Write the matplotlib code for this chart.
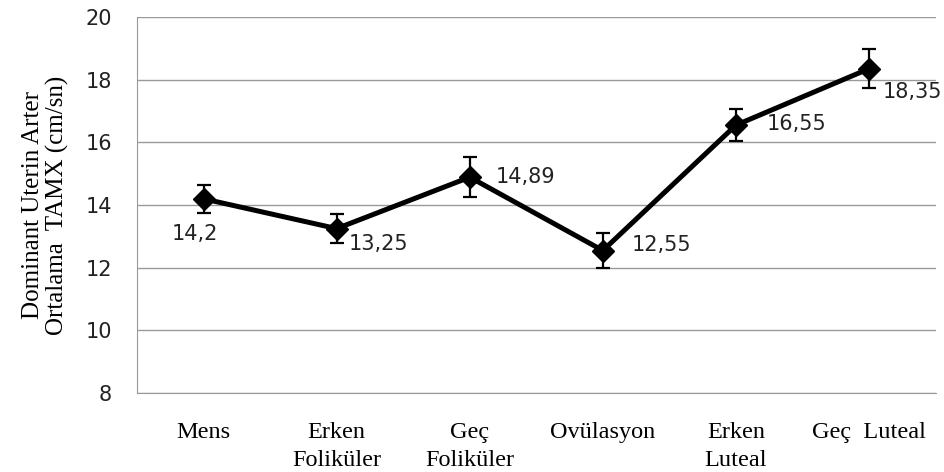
import matplotlib.pyplot as plt

# Chart data
categories = ["Mens", "Erken\nFoliküler", "Geç\nFoliküler", "Ovülasyon", "Erken\nLuteal", "Geç  Luteal"]
means = [14.2, 13.25, 14.89, 12.55, 16.55, 18.35]
errors = [0.45, 0.46, 0.63, 0.56, 0.50, 0.62]
value_labels = ["14,2", "13,25", "14,89", "12,55", "16,55", "18,35"]
y_ticks = [8, 10, 12, 14, 16, 18, 20]

fig = plt.figure(figsize=(9.45, 4.72), dpi=100)
ax = fig.add_axes([0.145, 0.167, 0.845, 0.797])

x = list(range(len(categories)))
ax.errorbar(x, means, yerr=errors, color="black", linewidth=3.6,
            marker="D", markersize=11, ecolor="black", elinewidth=1.6,
            capsize=5, capthick=1.6, zorder=3)

# Data labels (offsets in points)
offsets = [(-6, -25), (9, -11), (19, 0), (21, 4), (22, 1), (10, -17)]
for xi, yi, lab, off in zip(x, means, value_labels, offsets):
    ax.annotate(lab, (xi, yi), xytext=off, textcoords="offset points",
                ha="left" if off[0] > 0 else "center", va="center",
                fontsize=15, family="DejaVu Sans", color="#222222")

ax.set_xlim(-0.5, len(categories) - 0.5)
ax.set_ylim(8, 20)
ax.set_yticks(y_ticks)
ax.set_yticklabels([str(t) for t in y_ticks], fontsize=15, family="DejaVu Sans",
                   color="#222222")
ax.set_xticks(x)
ax.set_xticklabels(categories, fontsize=17.5, family="Liberation Serif",
                   va="top", linespacing=1.4)
ax.tick_params(axis="both", length=0)
ax.tick_params(axis="y", pad=18)
ax.tick_params(axis="x", pad=21)

ax.grid(axis="y", color="#999999", linewidth=1)
ax.set_axisbelow(True)
for s in ["top", "right"]:
    ax.spines[s].set_visible(False)
ax.spines["left"].set_color("#999999")
ax.spines["bottom"].set_color("#999999")

ax.set_ylabel("Dominant Uterin Arter\nOrtalama  TAMX (cm/sn)", fontsize=18,
              family="Liberation Serif", labelpad=12, linespacing=1.1)

fig.savefig("out.png", dpi=100)
